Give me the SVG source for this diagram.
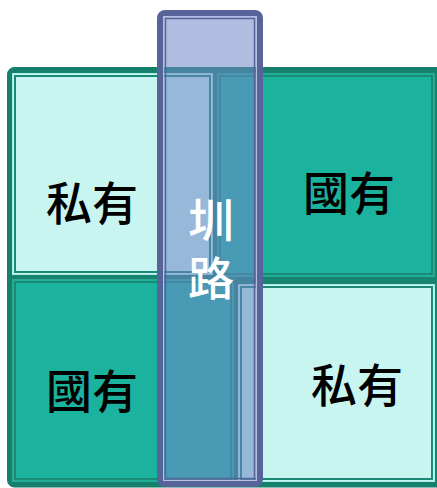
<svg xmlns="http://www.w3.org/2000/svg" width="437" height="488" viewBox="0 0 437 488">
<style>
.lbl{font-family:"Noto Sans CJK TC","Noto Sans CJK SC",sans-serif;font-size:46px;font-weight:500;text-anchor:middle}
.dark{fill:#000}
.white{fill:#fff}
.priv{fill:#c9f5f0;stroke:#a9ece2;stroke-width:1}
.state{fill:#1bb39e;stroke:#2aa892;stroke-width:1}
.inner{fill:none;stroke:#1a8a77;stroke-width:2}
</style>
<g id="frame">
<rect x="9.5" y="69.5" width="440" height="415.5" rx="5" fill="#168470" stroke="#15816d" stroke-width="5"/>
</g>
<g id="cell-tl">
<rect class="priv" x="12.5" y="73.5" width="200" height="201"/>
<rect class="inner" x="15" y="76" width="195" height="196"/>
<text class="lbl dark" x="92" y="220">私有</text>
</g>
<g id="cell-tr">
<rect class="state" x="217.5" y="73.5" width="217" height="203"/>
<rect class="inner" x="220" y="76" width="212" height="198" stroke="#179380"/>
<text class="lbl dark" x="349" y="210">國有</text>
</g>
<g id="cell-bl">
<rect class="state" x="12.5" y="279.5" width="221" height="202"/>
<rect class="inner" x="15" y="282" width="216" height="197" stroke="#179380"/>
<text class="lbl dark" x="92" y="408">國有</text>
</g>
<g id="cell-br">
<rect class="priv" x="238.5" y="284.5" width="196" height="197"/>
<rect class="inner" x="241" y="287" width="191" height="192"/>
<text class="lbl dark" x="357" y="402">私有</text>
</g>
<g id="road">
<rect x="160" y="13" width="100" height="471" rx="5" fill="#6f85c7" fill-opacity="0.55" stroke="#56649a" stroke-width="6"/>
<rect x="163.5" y="16.5" width="93" height="464" fill="none" stroke="#b5bfe3" stroke-width="1"/>
<rect x="165.5" y="18.5" width="89" height="460" fill="none" stroke="#56649a" stroke-width="1.5"/>
<text class="white" x="211" y="197" writing-mode="vertical-rl" style="font-family:'Noto Sans CJK TC','Noto Sans CJK SC',sans-serif;font-size:46px;font-weight:500;letter-spacing:12px">圳路</text>
</g>
<g id="connectors"></g>
</svg>
